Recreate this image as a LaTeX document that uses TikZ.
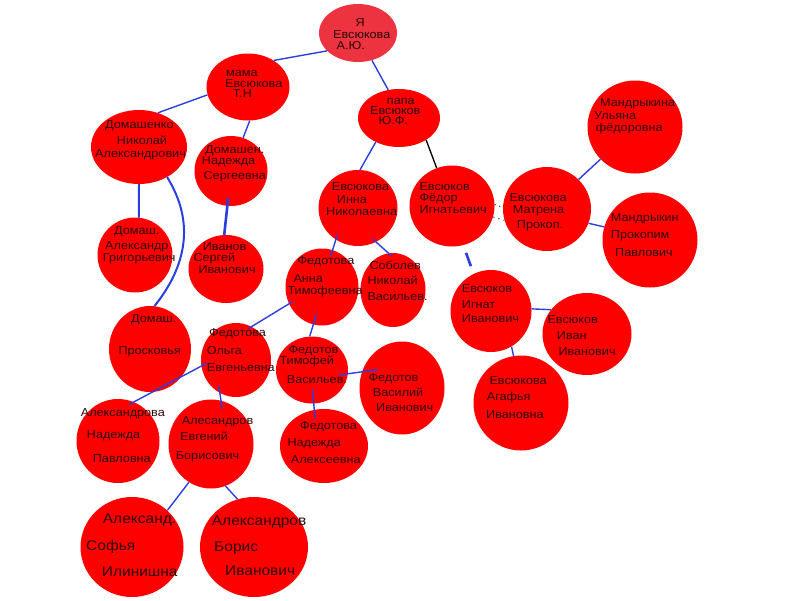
\documentclass[tikz,border=0pt]{standalone}
\usepackage{fontspec}
\usetikzlibrary{shapes.geometric,calc}
\newfontfamily\rus{Liberation Sans}[FakeStretch=1.1]
\definecolor{kinred}{HTML}{FF0000}
\definecolor{selfred}{HTML}{EE3340}
\definecolor{lineblue}{HTML}{2A3FE0}
\definecolor{inkdark}{HTML}{2B0707}
\setlength{\lineskiplimit}{-50pt}

\begin{document}
\begin{tikzpicture}[x=1pt, y=-1pt,
  person/.style={ellipse, fill=kinred, inner sep=0pt},
  nametext/.style={anchor=north west, inner sep=0pt, align=left, text=inkdark,
                   font=\rus\fontsize{11.5}{0.1}\selectfont},
  bigtext/.style={nametext, font=\rus\fontsize{14.1}{0.1}\selectfont},
  kinline/.style={color=lineblue, line width=1.4pt}
]
\useasboundingbox (0,0) rectangle (800,600);

% --- people ---
\node[person, fill=selfred, minimum width=78pt, minimum height=58pt] (ya) at (358,33) {};
\node[person, minimum width=83pt, minimum height=67pt] (mama) at (248,87) {};
\node[person, minimum width=82pt, minimum height=58pt] (papa) at (399,118) {};
\node[person, minimum width=96pt, minimum height=74pt] (doma) at (139,147) {};
\node[person, minimum width=73pt, minimum height=70pt] (nadS) at (231,171) {};
\node[person, minimum width=75pt, minimum height=75pt] (alex) at (135,255) {};
\node[person, minimum width=75pt, minimum height=68pt] (ivanov) at (226,269) {};
\node[person, minimum width=82pt, minimum height=86pt] (prosk) at (150,349) {};
\node[person, minimum width=79pt, minimum height=76pt] (inna) at (358,208) {};
\node[person, minimum width=85pt, minimum height=81pt] (fedor) at (452,206) {};
\node[person, minimum width=95pt, minimum height=93pt] (ulyana) at (635,127) {};
\node[person, minimum width=88pt, minimum height=84pt] (matrena) at (547,209) {};
\node[person, minimum width=95pt, minimum height=95pt] (prokop) at (650,240) {};
\node[person, minimum width=73pt, minimum height=77pt] (anna) at (322,287) {};
\node[person, minimum width=65pt, minimum height=74pt] (sobolev) at (393,290) {};
\node[person, minimum width=81pt, minimum height=82pt] (ignat) at (491,311) {};
\node[person, minimum width=89pt, minimum height=82pt] (ivan) at (587,334) {};
\node[person, minimum width=95pt, minimum height=95pt] (agafya) at (521,403) {};
\node[person, minimum width=70pt, minimum height=74pt] (olga) at (236,360) {};
\node[person, minimum width=83pt, minimum height=84pt] (nadP) at (118,441) {};
\node[person, minimum width=85pt, minimum height=89pt] (evgeny) at (211,444) {};
\node[person, minimum width=72pt, minimum height=67pt] (timofey) at (312,370) {};
\node[person, minimum width=85pt, minimum height=93pt] (vasily) at (402,388) {};
\node[person, minimum width=88pt, minimum height=74pt] (nadA) at (324,446) {};
\node[person, minimum width=103pt, minimum height=100pt] (sofya) at (132,547) {};
\node[person, minimum width=108pt, minimum height=100pt] (boris) at (254,547) {};

% --- links ---
\draw[kinline] (ya.210) -- (mama.46);
\draw[kinline] (ya.297) -- (papa.111);
\draw[kinline] (mama.191) -- (doma.61);
\draw[kinline] (mama.273) -- (nadS.70);
\draw[kinline, line width=2pt] (doma.270) -- (alex.84);
\draw[kinline, line width=2pt] (doma.313) .. controls ($(doma.313)+(28,45)$) and ($(prosk.84)+(32,-40)$) .. (prosk.84);
\draw[kinline, line width=2.6pt, shorten <=-8pt] (nadS.264) -- (ivanov.93);
\draw[kinline] (papa.226) -- (inna.87);
\draw[black, line width=1.3pt] (papa.321) -- (fedor.112);
\draw[loosely dotted, line width=1pt] (fedor.2) -- (matrena.178);
\draw[kinline, loosely dotted, line width=1pt] (fedor.345) -- (matrena.195);
\draw[kinline, line width=2.6pt, shorten <=8pt, shorten >=8pt] (fedor.286) -- (ignat.115);
\draw[kinline, shorten <=-5pt, shorten >=-6pt] (inna.235) -- (anna.74);
\draw[kinline, shorten <=-4pt, shorten >=-4pt] (inna.298) -- (sobolev.97);
\draw[kinline] (matrena.43) -- (ulyana.223);
\draw[kinline] (matrena.341) -- (prokop.164);
\draw[kinline] (ignat.3) -- (ivan.146);
\draw[kinline] (ignat.300) -- (agafya.99);
\draw[kinline, shorten <=-4pt, shorten >=-4pt] (anna.207) -- (olga.65);
\draw[kinline, shorten <=-11pt] (anna.257) -- (timofey.94);
\draw[kinline, shorten <=-6pt, shorten >=-5pt] (olga.190) -- (nadP.68);
\draw[kinline, shorten <=-7pt, shorten >=-8pt] (olga.244) -- (evgeny.77);
\draw[kinline, shorten <=-9pt, shorten >=-16pt] (timofey.354) -- (vasily.158);
\draw[kinline, shorten <=-14pt, shorten >=-8pt] (timofey.273) -- (nadA.105);
\draw[kinline] (evgeny.240) -- (sofya.46);
\draw[kinline] (evgeny.289) -- (boris.109);

% --- names ---
\node[nametext] (t-ya) at (333,18) {\hspace*{22.5pt}Я\\[12.3pt]Евсюкова\\[11pt]\hspace*{3.5pt}А.Ю.};
\node[nametext] (t-mama) at (225,70) {\hspace*{1pt}мама\\[11pt]Евсюкова\\[10pt]\hspace*{7.7pt}Т.Н};
\node[nametext] (t-papa) at (370,98) {\hspace*{16.7pt}папа\\[10pt]Евсюков\\[10pt]\hspace*{8.3pt}Ю.Ф.};
\node[nametext] (t-doma) at (95,120) {\hspace*{10pt}Домашенко\\[16.4pt]\hspace*{21.7pt}Николай\\[13pt]Александрович};
\node[nametext] (t-nadS) at (201.7,145) {\hspace*{3.3pt}Домашен.\\[11.5pt]Надежда\\[14.8pt]\hspace*{1.7pt}Сергеевна};
\node[nametext] (t-alex) at (102.7,226.7) {\hspace*{11.3pt}Домаш.\\[15pt]\hspace*{2.3pt}Александр\\[11.5pt]Григорьевич};
\node[nametext] (t-ivanov) at (193.3,242.5) {\hspace*{9.4pt}Иванов\\[11pt]Сергей\\[12pt]\hspace*{5pt}Иванович};
\node[nametext] (t-prosk) at (118.3,314) {\hspace*{12.7pt}Домаш.\\[32.7pt]Просковья};
\node[nametext] (t-inna) at (326,182.7) {\hspace*{5.7pt}Евсюкова\\[12.7pt]\hspace*{10.7pt}Инна\\[11.7pt]Николаевна};
\node[nametext] (t-fedor) at (419.3,182.5) {Евсюков\\[11pt]Фёдор\\[12pt]Игнатьевич};
\node[nametext] (t-ulyana) at (594,98.3) {\hspace*{6pt}Мандрыкина\\[13.3pt]Ульяна\\[11.5pt]\hspace*{1.7pt}фёдоровна};
\node[nametext] (t-matrena) at (509.3,193.3) {Евсюкова\\[11.8pt]\hspace*{3.4pt}Матрена\\[14.8pt]\hspace*{7.4pt}Прокоп.};
\node[nametext] (t-prokop) at (610.7,213.3) {Мандрыкин\\[16.8pt]Прокопим\\[18pt]\hspace*{4.3pt}Павлович};
\node[nametext] (t-anna) at (287.3,256) {\hspace*{10pt}Федотова\\[17.8pt]\hspace*{6pt}Анна\\[12.3pt]Тимофеевна};
\node[nametext] (t-sobolev) at (367.3,261) {\hspace*{2pt}Соболев\\[14.4pt]Николай\\[16.7pt]Васильев.};
\node[nametext] (t-ignat) at (461.7,284) {Евсюков\\[16.4pt]Игнат\\[13.4pt]Иванович};
\node[nametext] (t-ivan) at (547.3,315) {Евсюков\\[16.4pt]\hspace*{9.4pt}Иван\\[15.7pt]\hspace*{11pt}Иванович};
\node[nametext] (t-agafya) at (486,376) {\hspace*{3.3pt}Евсюкова\\[16.7pt]\hspace*{0.7pt}Агафья\\[17.7pt]Ивановна};
\node[nametext] (t-olga) at (206.7,328.3) {\hspace*{2.3pt}Федотова\\[18.4pt]Ольга\\[16pt]Евгеньевна};
\node[nametext] (t-nadP) at (80.7,408.3) {Александрова\\[21.7pt]\hspace*{6pt}Надежда\\[24.3pt]\hspace*{12pt}Павловна};
\node[nametext] (t-evgeny) at (175.7,416) {\hspace*{6pt}Алесандров\\[16.7pt]\hspace*{4.3pt}Евгений\\[18pt]Борисович};
\node[nametext] (t-timofey) at (279.3,345) {\hspace*{9pt}Федотов\\[11.7pt]Тимофей\\[18.3pt]\hspace*{7.4pt}Васильев.};
\node[nametext] (t-vasily) at (368.3,373.3) {Федотов\\[15pt]\hspace*{4.4pt}Василий\\[14.4pt]\hspace*{7.7pt}Иванович};
\node[nametext] (t-nadA) at (287.3,421.7) {\hspace*{12.7pt}Федотова\\[16.6pt]Надежда\\[16.7pt]\hspace*{3.4pt}Алексеевна};
\node[bigtext] (t-sofya) at (86,513.3) {\hspace*{16.7pt}Александ.\\[26.7pt]Софья\\[26pt]\hspace*{15.7pt}Илинишна};
\node[bigtext] (t-boris) at (211.7,516) {Александров\\[25.7pt]\hspace*{2.3pt}Борис\\[23.3pt]\hspace*{13.3pt}Иванович};

\end{tikzpicture}
\end{document}
